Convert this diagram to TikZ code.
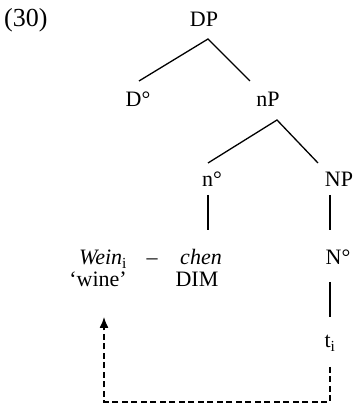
\documentclass[tikz,border=0pt]{standalone}
\usepackage{fontspec}
\setmainfont{Liberation Serif}
\usetikzlibrary{arrows.meta}
\tikzset{
  lbl/.style={anchor=base, inner sep=0pt, outer sep=0pt, text height=15pt, text depth=0pt,
    font=\fontsize{22}{26}\selectfont},
  branch/.style={line width=1.3pt},
  move/.style={line width=1.3pt, dash pattern=on 6pt off 3.5pt, -{Latex[length=11pt,width=9pt]}}
}
\begin{document}
\begin{tikzpicture}[x=1pt,y=1pt]
    \useasboundingbox (0,0) rectangle (353,406);
    \node[anchor=base west, inner sep=0pt, font=\fontsize{26}{30}\selectfont] (num) at (4,379) {(30)};
    \node[lbl] (DP) at (204,379) {DP};
    \node[lbl] (D) at (138,299) {D°};
    \node[lbl] (nP) at (268,299) {nP};
    \node[lbl] (n) at (212,219) {n°};
    \node[lbl] (NP) at (339,219) {NP};
    \node[lbl] (wein) at (103,141) {\textit{Wein}\textsubscript{i}};
    \node[lbl] (dash) at (152,141) {–};
    \node[lbl] (chen) at (201,141) {\textit{chen}};
    \node[lbl] (N) at (338,141) {N°};
    \node[lbl] (wine) at (98,119) {‘wine’};
    \node[lbl] (dim) at (197,119) {DIM};
    \node[lbl] (t) at (330,58) {t\textsubscript{i}};
    \draw[branch] ([xshift=1pt,yshift=11pt]D.north) -- ([xshift=4pt,yshift=-12pt]DP.south) -- ([xshift=-18pt,yshift=11pt]nP.north);
    \draw[branch] ([xshift=-4pt,yshift=9pt]n.north) -- ([xshift=9pt,yshift=-13pt]nP.south) -- ([xshift=-21pt,yshift=9pt]NP.north);
    \draw[branch] ([xshift=-4pt,yshift=-8pt]n.south) -- ([xshift=7pt,yshift=20pt]chen.north);
    \draw[branch] ([xshift=-9pt,yshift=-8pt]NP.south) -- ([xshift=-8pt,yshift=20pt]N.north);
    \draw[branch] ([xshift=-8pt,yshift=-17pt]N.south) -- ([yshift=16pt]t.north);
    \draw[move] ([yshift=-19pt]t.south) -- ++(0,-35) -| ([xshift=6pt,yshift=-30pt]wine.south);
  \end{tikzpicture}
\end{document}
